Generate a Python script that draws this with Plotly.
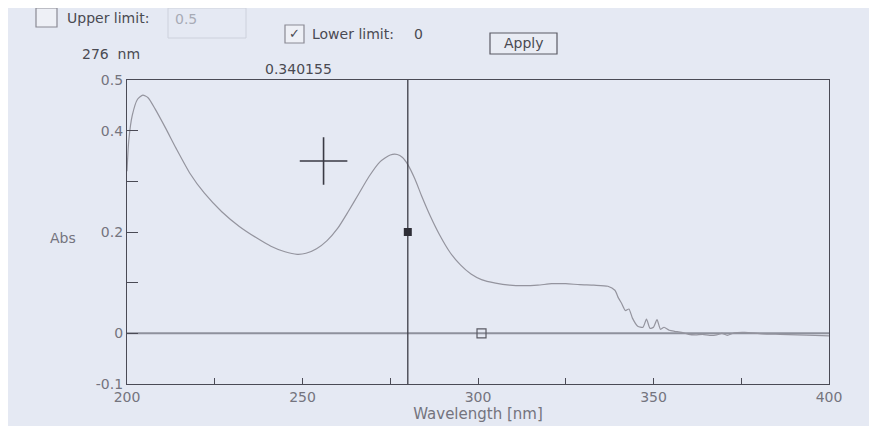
import plotly.graph_objects as go

# ---- data ----
wavelength = [200, 200.5, 201.5, 203, 204.5, 206, 208, 211, 214, 218, 222, 227, 232, 237, 241,
              245, 248.5, 251, 254, 257, 260, 263, 266, 269, 272, 275, 277, 278.5, 280, 282,
              284, 286.5, 289, 292, 295, 298, 301, 305, 309, 313, 317, 321, 325, 329, 333,
              337, 339, 340, 341, 342, 343, 344, 345.5, 347, 348, 349, 350, 351, 352, 353,
              354.5, 356, 358, 360, 362, 364, 366, 368, 369.5, 371, 373, 376, 381, 386, 391,
              396, 400]
absorbance = [0.32, 0.38, 0.43, 0.462, 0.47, 0.465, 0.443, 0.405, 0.365, 0.315, 0.277, 0.24,
              0.211, 0.188, 0.172, 0.161, 0.156, 0.158, 0.167, 0.183, 0.207, 0.24, 0.275,
              0.31, 0.338, 0.352, 0.353, 0.347, 0.333, 0.305, 0.27, 0.23, 0.195, 0.16, 0.135,
              0.117, 0.106, 0.099, 0.095, 0.094, 0.095, 0.098, 0.098, 0.096, 0.095, 0.093,
              0.085, 0.07, 0.058, 0.045, 0.048, 0.03, 0.014, 0.012, 0.028, 0.01, 0.012, 0.027,
              0.008, 0.012, 0.006, 0.004, 0.002, -0.002, -0.003, -0.002, -0.004, -0.003, 0.0,
              -0.004, 0.001, 0.002, -0.001, -0.002, -0.003, -0.004, -0.005]

cursor_nm = 276
cursor_line_nm = 280
cursor_abs = 0.340155
cursor_marker_abs = 0.2
baseline_marker_nm = 301
crosshair = (256, 0.34)
upper_limit = "0.5"
lower_limit = "0"

x_tickvals = [200, 225, 250, 275, 300, 325, 350, 375, 400]
x_ticktext = ["200", "", "250", "", "300", "", "350", "", "400"]
y_tickvals = [-0.1, 0, 0.1, 0.2, 0.3, 0.4, 0.5]
y_ticktext = ["-0.1", "0", "", "0.2", "", "0.4", "0.5"]

BG = "#e5e9f3"
TXT = "#4a4a52"
LIGHT = "#74747e"
FONT = "DejaVu Sans, Liberation Sans, Arial"

# page offset produced by the default body margin
OFF = 8
PAGE_W, PAGE_H = 877, 426
W, H = PAGE_W - OFF, PAGE_H - OFF
# plot area in page pixels
L, R, T, B = 127, 829, 80, 384


def px(x):
    return (x - L) / (R - L)


def py(y):
    return (B - y) / (B - T)


fig = go.Figure()

# baseline (zero line)
fig.add_trace(go.Scatter(x=[200, 400], y=[0, 0], mode="lines",
                         line=dict(color="#8e919c", width=2), hoverinfo="skip"))
# spectrum
fig.add_trace(go.Scatter(x=wavelength, y=absorbance, mode="lines",
                         line=dict(color="#94949e", width=1.2, shape="spline", smoothing=0.6)))
# cursor line
fig.add_trace(go.Scatter(x=[cursor_line_nm, cursor_line_nm], y=[-0.1, 0.5], mode="lines",
                         line=dict(color="#3c3c46", width=1.3), hoverinfo="skip"))
# cursor marker (filled)
fig.add_trace(go.Scatter(x=[cursor_line_nm], y=[cursor_marker_abs], mode="markers",
                         marker=dict(symbol="square", size=8, color="#2e2e36",
                                     line=dict(width=0))))
# baseline marker (hollow)
fig.add_trace(go.Scatter(x=[baseline_marker_nm], y=[0], mode="markers",
                         marker=dict(symbol="square-open", size=9, color="#5a5a64",
                                     line=dict(width=1.2))))
# crosshair
fig.add_trace(go.Scatter(x=[crosshair[0]], y=[crosshair[1]], mode="markers",
                         marker=dict(symbol="cross-thin", size=34,
                                     line=dict(color="#3a3a44", width=1.6))))

shapes = []
annotations = []


def label(text, x, y, anchor="left", size=14, color=TXT, family=FONT):
    annotations.append(dict(text=text, x=px(x), y=py(y), xref="paper", yref="paper",
                            xanchor=anchor, yanchor="middle", showarrow=False,
                            font=dict(size=size, color=color, family=family)))


def box(x0, x1, y0, y1, color, fill, width=1.2):
    shapes.append(dict(type="rect", xref="paper", yref="paper",
                       x0=px(x0), x1=px(x1), y0=py(y1), y1=py(y0),
                       line=dict(color=color, width=width), fillcolor=fill))


# header widgets
box(36, 57, 8, 27, "#8a8a94", "#eef0f6")
label("Upper limit:", 65, 18)
box(168, 246, 8, 38, "#cdd1dc", "rgba(0,0,0,0)", 1)
label(upper_limit, 173, 19, color="#a8abb6")
box(285, 304, 25, 43, "#8a8a94", "#eef0f6")
label("✓", 294.5, 34, anchor="center", size=13, color=TXT, family="DejaVu Sans")
label("Lower limit:", 310, 34)
label(lower_limit, 412, 34)
box(490, 557, 33, 54, "#5a5a64", "#e9ecf4")
label("Apply", 523.5, 43.5, anchor="center")
label(f"{cursor_nm}  nm", 80, 54)
label(f"{cursor_abs:.6f}", 263, 69)
label("Abs", 78, 238, anchor="right", size=14, color=LIGHT)

fig.update_layout(
    width=W, height=H,
    margin=dict(l=L - OFF, r=PAGE_W - R, t=T - OFF, b=PAGE_H - B),
    paper_bgcolor=BG, plot_bgcolor=BG,
    showlegend=False,
    shapes=shapes, annotations=annotations,
    font=dict(family=FONT, size=14, color=TXT),
    xaxis=dict(range=[200, 400], tickvals=x_tickvals, ticktext=x_ticktext,
               ticks="inside", ticklen=6, tickcolor="#4a4a55", tickwidth=1.2,
               showgrid=False, zeroline=False, showline=True, mirror=True,
               linecolor="#4a4a55", linewidth=1.3,
               title=dict(text="Wavelength [nm]", standoff=0,
                          font=dict(size=15, color=LIGHT)),
               tickfont=dict(size=14, color=LIGHT)),
    yaxis=dict(range=[-0.1, 0.5], tickvals=y_tickvals, ticktext=y_ticktext,
               ticks="inside", ticklen=11, tickcolor="#4a4a55", tickwidth=1.2,
               showgrid=False, zeroline=False, showline=True, mirror=True,
               linecolor="#4a4a55", linewidth=1.3,
               tickfont=dict(size=14, color=LIGHT)),
)

fig.write_html("out.html")
